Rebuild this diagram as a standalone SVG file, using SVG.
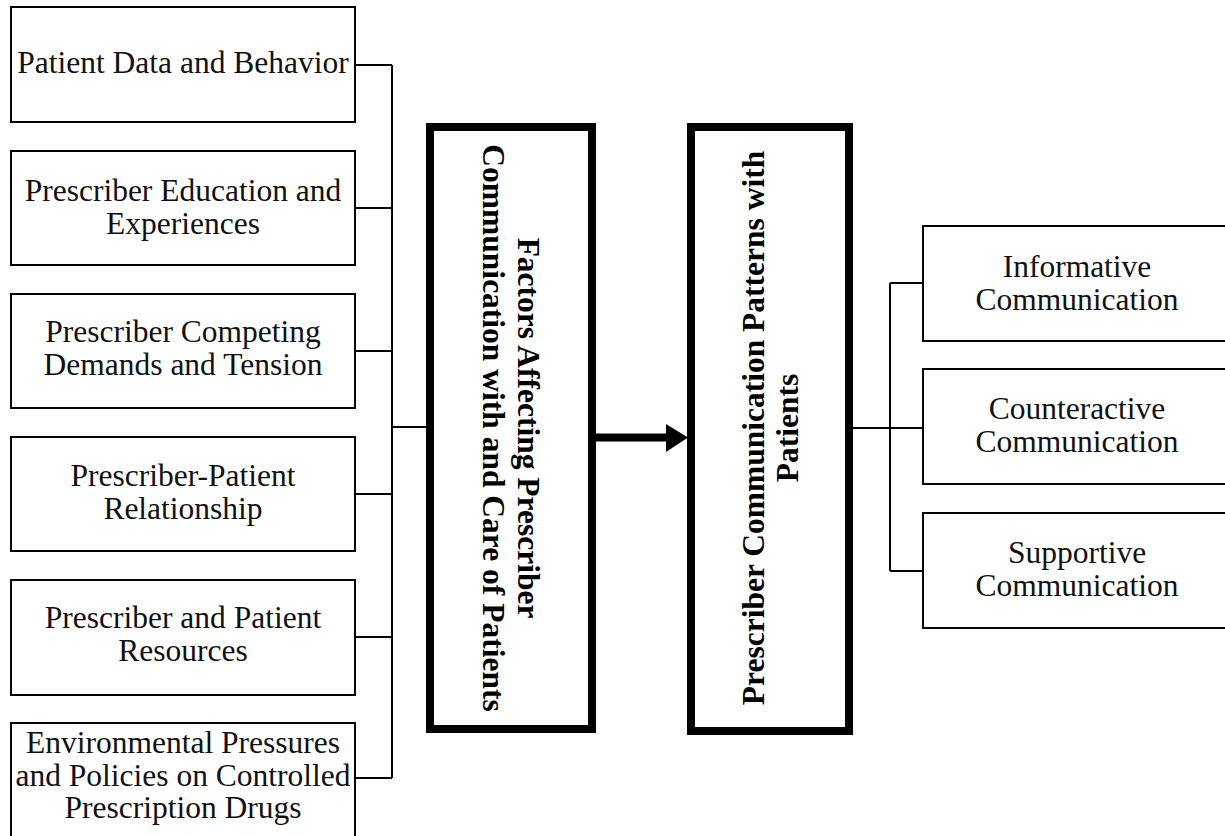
<svg xmlns="http://www.w3.org/2000/svg" width="1225" height="836" viewBox="0 0 1225 836">
  <style>
    .box { fill: #ffffff; stroke: #000000; stroke-width: 2; }
    .core { fill: #ffffff; stroke: #000000; stroke-width: 8; }
    .lbl { font-family: "Liberation Serif", "Times New Roman", serif; font-size: 31.5px; fill: #111111; text-anchor: middle; }
    .core-lbl { font-family: "Liberation Serif", "Times New Roman", serif; font-size: 31.5px; font-weight: bold; fill: #000000; text-anchor: middle; }
    .wire { fill: none; stroke: #000000; stroke-width: 2; }
  </style>
  <rect width="1225" height="836" fill="#ffffff"/>

  <!-- connectors -->
  <g id="connectors">
    <path class="wire" d="M355 65 H392 M355 208 H392 M355 351 H392 M355 494 H392 M355 637 H392 M355 778 H392 M392 65 V778 M392 427 H426"/>
    <path class="wire" d="M853 428 H923 M890 283 V571 M890 283 H923 M890 571 H923"/>
    <line x1="596" y1="437.5" x2="668" y2="437.5" stroke="#000000" stroke-width="8"/>
    <polygon points="666,424 688,437.5 666,452" fill="#000000"/>
  </g>

  <!-- factor boxes -->
  <g id="patient-data">
    <rect class="box" x="11" y="7" width="344" height="115"/>
    <text class="lbl" x="183" y="73">Patient Data and Behavior</text>
  </g>
  <g id="prescriber-education">
    <rect class="box" x="11" y="151" width="344" height="114"/>
    <text class="lbl" x="183" y="201">Prescriber Education and</text>
    <text class="lbl" x="183" y="234">Experiences</text>
  </g>
  <g id="competing-demands">
    <rect class="box" x="11" y="294" width="344" height="114"/>
    <text class="lbl" x="183" y="342">Prescriber Competing</text>
    <text class="lbl" x="183" y="375">Demands and Tension</text>
  </g>
  <g id="relationship">
    <rect class="box" x="11" y="437" width="344" height="114"/>
    <text class="lbl" x="183" y="486">Prescriber-Patient</text>
    <text class="lbl" x="183" y="519">Relationship</text>
  </g>
  <g id="resources">
    <rect class="box" x="11" y="580" width="344" height="115"/>
    <text class="lbl" x="183" y="628">Prescriber and Patient</text>
    <text class="lbl" x="183" y="661">Resources</text>
  </g>
  <g id="environment">
    <rect class="box" x="11" y="723" width="344" height="130"/>
    <text class="lbl" x="183" y="753">Environmental Pressures</text>
    <text class="lbl" x="183" y="786">and Policies on Controlled</text>
    <text class="lbl" x="183" y="818">Prescription Drugs</text>
  </g>

  <!-- central boxes -->
  <g id="factors">
    <rect class="core" x="430" y="127" width="162" height="602"/>
    <text class="core-lbl" transform="translate(518 428) rotate(90)">Factors Affecting Prescriber</text>
    <text class="core-lbl" transform="translate(483 428) rotate(90)">Communication with and Care of Patients</text>
  </g>
  <g id="patterns">
    <rect class="core" x="691" y="127" width="158" height="604"/>
    <text class="core-lbl" transform="translate(764 428) rotate(-90)">Prescriber Communication Patterns with</text>
    <text class="core-lbl" transform="translate(798 428) rotate(-90)">Patients</text>
  </g>

  <!-- outcome boxes -->
  <g id="informative">
    <rect class="box" x="923" y="226" width="308" height="115"/>
    <text class="lbl" x="1077" y="277">Informative</text>
    <text class="lbl" x="1077" y="310">Communication</text>
  </g>
  <g id="counteractive">
    <rect class="box" x="923" y="369" width="308" height="115"/>
    <text class="lbl" x="1077" y="419">Counteractive</text>
    <text class="lbl" x="1077" y="452">Communication</text>
  </g>
  <g id="supportive">
    <rect class="box" x="923" y="513" width="308" height="115"/>
    <text class="lbl" x="1077" y="563">Supportive</text>
    <text class="lbl" x="1077" y="596">Communication</text>
  </g>
</svg>
